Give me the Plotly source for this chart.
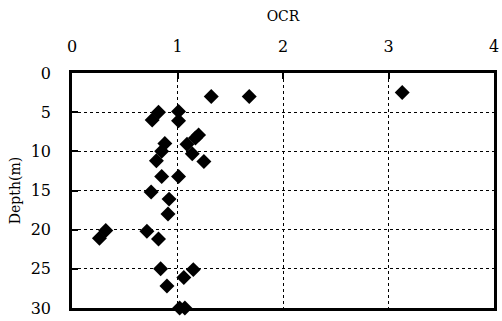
import plotly.graph_objects as go

ocr = [3.13, 1.32, 1.68,
       0.82, 0.76, 1.01, 1.01,
       1.20, 1.17, 1.09, 1.14, 1.25,
       0.88, 0.85, 0.80,
       0.85, 1.01,
       0.75, 0.92, 0.91,
       0.32, 0.26, 0.71, 0.82,
       0.84, 1.15, 1.06, 0.90,
       1.02, 1.07]
depth = [2.5, 3.0, 3.0,
         5.0, 6.0, 4.9, 6.1,
         7.9, 8.3, 9.1, 10.3, 11.3,
         9.0, 10.0, 11.2,
         13.2, 13.2,
         15.2, 16.1, 18.0,
         20.1, 21.1, 20.2, 21.2,
         25.0, 25.1, 26.1, 27.2,
         30.0, 30.0]

x_ticks = [0, 1, 2, 3, 4]
y_ticks = [0, 5, 10, 15, 20, 25, 30]

font = "'DejaVu Serif', 'Liberation Serif', serif"

fig = go.Figure(go.Scatter(
    x=ocr, y=depth, mode="markers",
    marker=dict(symbol="diamond", size=11.5, color="black"),
    cliponaxis=False, showlegend=False))

fig.update_layout(
    width=502, height=321,
    margin=dict(l=72, r=3, t=73, b=10),
    paper_bgcolor="white", plot_bgcolor="white",
    font=dict(family=font, size=16, color="black"),
    xaxis=dict(
        side="top", range=[0, 4], tickvals=x_ticks,
        showgrid=True, gridcolor="black", gridwidth=1, griddash="dot",
        showline=True, linecolor="black", linewidth=2.5, mirror=True,
        ticks="inside", ticklen=6, tickwidth=2, tickcolor="black",
        zeroline=False, ticklabelstandoff=12,
        title=dict(text="OCR", font=dict(family=font, size=14), standoff=12)),
    yaxis=dict(
        range=[30, 0], tickvals=y_ticks,
        showgrid=True, gridcolor="black", gridwidth=1, griddash="dot",
        showline=True, linecolor="black", linewidth=2.5, mirror=True,
        ticks="inside", ticklen=6, tickwidth=2, tickcolor="black",
        zeroline=False, ticklabelstandoff=15,
        title=dict(text="Depth(m)", font=dict(family=font, size=14), standoff=7)),
)

fig.write_html("out.html")
